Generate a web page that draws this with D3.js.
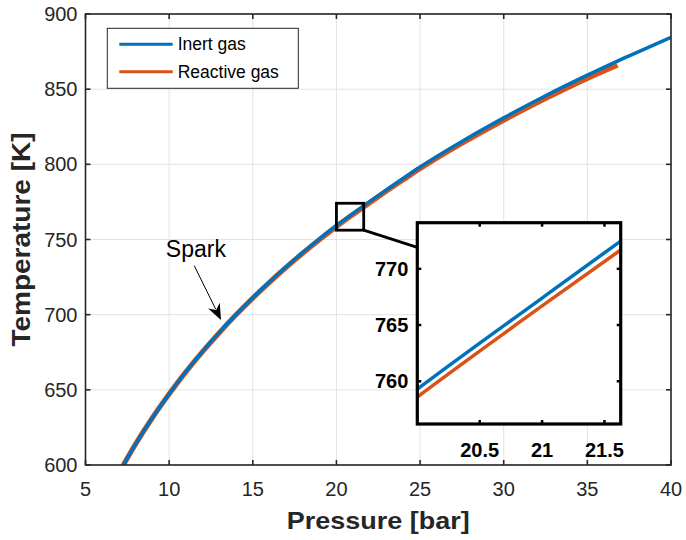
<!DOCTYPE html>
<html>
<head>
<meta charset="utf-8">
<script src="https://cdn.jsdelivr.net/npm/d3@7"></script>
<style>
  html, body { margin: 0; padding: 0; background: #ffffff; }
  svg { display: block; font-family: "Liberation Sans", Arial, Helvetica, sans-serif; }
</style>
</head>
<body>
<svg id="chart" width="686" height="540"></svg>
<script>
// ---------------- data ----------------
const pressureInert = [7.22, 8, 9, 10, 11, 12, 13, 14, 15, 16, 17, 18, 19, 20, 21, 22, 23, 24, 25, 27.5, 30, 32.5, 35, 36.8, 37.5, 40];
const tempInert     = [599.1, 614.0, 631.4, 647.3, 662.0, 675.6, 688.2, 700.1, 711.3, 721.9, 731.9, 741.5, 750.6, 759.3, 767.4, 775.4, 783.1, 790.7, 798.2, 815.2, 830.9, 845.6, 859.3, 868.7, 872.2, 884.5];
const pressureReactive = [7.22, 8, 9, 10, 11, 12, 13, 14, 15, 16, 17, 18, 19, 20, 21, 22, 23, 24, 25, 27.5, 30, 32.5, 35, 36.8];
const tempReactive     = [599.1, 614.0, 631.4, 647.2, 661.9, 675.4, 688.0, 699.9, 711.0, 721.5, 731.5, 741.0, 750.0, 758.6, 766.7, 774.6, 782.3, 789.8, 797.2, 814.0, 829.4, 843.8, 857.2, 866.0];
const seriesNames = ["Inert gas", "Reactive gas"];
const xTicks = [5, 10, 15, 20, 25, 30, 35, 40];
const yTicks = [600, 650, 700, 750, 800, 850, 900];
const xDomain = [5, 40];
const yDomain = [600, 900];
const insetXDomain = [20.0, 21.63];
const insetYDomain = [756.2, 774.1];
const insetXTicks = [20.5, 21, 21.5];
const insetYTicks = [760, 765, 770];
const annotationText = "Spark";
const arrowStart = [11.5, 732.6];
const arrowTip = [13.1, 696.5];
const xLabel = "Pressure [bar]";
const yLabel = "Temperature [K]";

// ---------------- layout ----------------
const colors = ["#0072BD", "#D95319"];
const axisColor = "#262626";
const gridColor = "#e3e3e3";
const plot = { left: 85.5, right: 671, top: 14, bottom: 465 };
const inset = { left: 417.3, right: 620.7, top: 222.7, bottom: 424 };

const svg = d3.select("#chart");
const x = d3.scaleLinear().domain(xDomain).range([plot.left, plot.right]);
const y = d3.scaleLinear().domain(yDomain).range([plot.bottom, plot.top]);

const inertData = pressureInert.map((p, i) => ({ p, t: tempInert[i] }));
const reactiveData = pressureReactive.map((p, i) => ({ p, t: tempReactive[i] }));

// clip
const defs = svg.append("defs");
defs.append("clipPath").attr("id", "clipMain").append("rect")
  .attr("x", plot.left).attr("y", plot.top)
  .attr("width", plot.right - plot.left).attr("height", plot.bottom - plot.top);
defs.append("clipPath").attr("id", "clipInset").append("rect")
  .attr("x", inset.left).attr("y", inset.top)
  .attr("width", inset.right - inset.left).attr("height", inset.bottom - inset.top);

// grid
const grid = svg.append("g");
grid.selectAll("line.gx").data(xTicks).join("line")
  .attr("x1", d => x(d)).attr("x2", d => x(d))
  .attr("y1", plot.top).attr("y2", plot.bottom)
  .attr("stroke", gridColor).attr("stroke-width", 1);
grid.selectAll("line.gy").data(yTicks).join("line")
  .attr("y1", d => y(d)).attr("y2", d => y(d))
  .attr("x1", plot.left).attr("x2", plot.right)
  .attr("stroke", gridColor).attr("stroke-width", 1);

// curves
const lineGen = (sx, sy) => d3.line().x(d => sx(d.p)).y(d => sy(d.t)).curve(d3.curveMonotoneX);
const mainG = svg.append("g").attr("clip-path", "url(#clipMain)");
mainG.append("path").datum(reactiveData).attr("d", lineGen(x, y))
  .attr("fill", "none").attr("stroke", colors[1]).attr("stroke-width", 5.2).attr("stroke-linejoin", "round");
mainG.append("path").datum(inertData).attr("d", lineGen(x, y))
  .attr("fill", "none").attr("stroke", colors[0]).attr("stroke-width", 3.5).attr("stroke-linejoin", "round");

// axes (box with inward ticks)
const tickLen = 5;
const axG = svg.append("g").attr("fill", "none").attr("stroke", axisColor);
axG.append("rect").attr("x", plot.left).attr("y", plot.top)
  .attr("width", plot.right - plot.left).attr("height", plot.bottom - plot.top)
  .attr("stroke-width", 1.6);
xTicks.forEach(v => {
  axG.append("line").attr("x1", x(v)).attr("x2", x(v)).attr("y1", plot.bottom).attr("y2", plot.bottom - tickLen).attr("stroke-width", 1.6);
  axG.append("line").attr("x1", x(v)).attr("x2", x(v)).attr("y1", plot.top).attr("y2", plot.top + tickLen).attr("stroke-width", 1.6);
});
yTicks.forEach(v => {
  axG.append("line").attr("y1", y(v)).attr("y2", y(v)).attr("x1", plot.left).attr("x2", plot.left + tickLen).attr("stroke-width", 1.6);
  axG.append("line").attr("y1", y(v)).attr("y2", y(v)).attr("x1", plot.right).attr("x2", plot.right - tickLen).attr("stroke-width", 1.6);
});

// tick labels
svg.append("g").selectAll("text").data(xTicks).join("text")
  .attr("x", d => x(d)).attr("y", plot.bottom + 31)
  .attr("text-anchor", "middle").attr("font-size", 20).attr("fill", axisColor)
  .text(d => d);
svg.append("g").selectAll("text").data(yTicks).join("text")
  .attr("x", plot.left - 8).attr("y", d => y(d) + 7)
  .attr("text-anchor", "end").attr("font-size", 20).attr("fill", axisColor)
  .text(d => d);

// axis labels
svg.append("text").attr("x", (plot.left + plot.right) / 2).attr("y", 529)
  .attr("text-anchor", "middle").attr("font-size", 24).attr("font-weight", "bold")
  .attr("fill", axisColor).attr("textLength", 183).attr("lengthAdjust", "spacingAndGlyphs")
  .text(xLabel);
svg.append("text")
  .attr("transform", `translate(30, ${(plot.top + plot.bottom) / 2}) rotate(-90)`)
  .attr("text-anchor", "middle").attr("font-size", 25).attr("font-weight", "bold")
  .attr("fill", axisColor).attr("textLength", 214).attr("lengthAdjust", "spacingAndGlyphs")
  .text(yLabel);

// legend
const leg = svg.append("g");
leg.append("rect").attr("x", 107.3).attr("y", 28.3).attr("width", 191).attr("height", 60)
  .attr("fill", "#ffffff").attr("stroke", axisColor).attr("stroke-width", 1);
seriesNames.forEach((name, i) => {
  const ly = 44.3 + i * 27.4;
  leg.append("line").attr("x1", 119.3).attr("x2", 172.7).attr("y1", ly).attr("y2", ly)
    .attr("stroke", colors[i]).attr("stroke-width", 3);
  leg.append("text").attr("x", 177.7).attr("y", ly + 6).attr("font-size", 17.5)
    .attr("fill", "#000").text(name);
});

// annotation "Spark"
svg.append("text").attr("x", x(11.6)).attr("y", y(738.2)).attr("text-anchor", "middle")
  .attr("font-size", 23).attr("fill", "#000").text(annotationText);
{
  const x0 = x(arrowStart[0]), y0 = y(arrowStart[1]);
  const x1 = x(arrowTip[0]), y1 = y(arrowTip[1]);
  const dx = x1 - x0, dy = y1 - y0, L = Math.hypot(dx, dy);
  const ux = dx / L, uy = dy / L, px = -uy, py = ux;
  const hl = 16, hw = 6.5;
  const bx = x1 - ux * hl, by = y1 - uy * hl;
  svg.append("line").attr("x1", x0).attr("y1", y0).attr("x2", bx + ux * 4).attr("y2", by + uy * 4)
    .attr("stroke", "#000").attr("stroke-width", 1);
  svg.append("path")
    .attr("d", `M${x1},${y1} L${bx + px * hw},${by + py * hw} L${bx + ux * 5},${by + uy * 5} L${bx - px * hw},${by - py * hw} Z`)
    .attr("fill", "#000");
}

// zoom rectangle on main plot
svg.append("rect")
  .attr("x", x(insetXDomain[0])).attr("y", y(insetYDomain[1]))
  .attr("width", x(insetXDomain[1]) - x(insetXDomain[0]))
  .attr("height", y(insetYDomain[0]) - y(insetYDomain[1]))
  .attr("fill", "none").attr("stroke", "#000").attr("stroke-width", 2.8);
// connector
svg.append("line")
  .attr("x1", x(insetXDomain[1])).attr("y1", y(insetYDomain[0]))
  .attr("x2", inset.left).attr("y2", inset.top + 24.6)
  .attr("stroke", "#000").attr("stroke-width", 2.8);

// inset
const ix = d3.scaleLinear().domain(insetXDomain).range([inset.left, inset.right]);
const iy = d3.scaleLinear().domain(insetYDomain).range([inset.bottom, inset.top]);
svg.append("rect").attr("x", inset.left).attr("y", inset.top)
  .attr("width", inset.right - inset.left).attr("height", inset.bottom - inset.top)
  .attr("fill", "#ffffff");
const insG = svg.append("g").attr("clip-path", "url(#clipInset)");
insG.append("path").datum(reactiveData).attr("d", lineGen(ix, iy))
  .attr("fill", "none").attr("stroke", colors[1]).attr("stroke-width", 3.5);
insG.append("path").datum(inertData).attr("d", lineGen(ix, iy))
  .attr("fill", "none").attr("stroke", colors[0]).attr("stroke-width", 3.5);
const insAx = svg.append("g").attr("stroke", "#000").attr("fill", "none");
insAx.append("rect").attr("x", inset.left).attr("y", inset.top)
  .attr("width", inset.right - inset.left).attr("height", inset.bottom - inset.top)
  .attr("stroke-width", 3.2);
insetXTicks.forEach(v => {
  insAx.append("line").attr("x1", ix(v)).attr("x2", ix(v)).attr("y1", inset.bottom).attr("y2", inset.bottom - 4).attr("stroke-width", 2.5);
  insAx.append("line").attr("x1", ix(v)).attr("x2", ix(v)).attr("y1", inset.top).attr("y2", inset.top + 4).attr("stroke-width", 2.5);
});
insetYTicks.forEach(v => {
  insAx.append("line").attr("y1", iy(v)).attr("y2", iy(v)).attr("x1", inset.left).attr("x2", inset.left + 4).attr("stroke-width", 2.5);
  insAx.append("line").attr("y1", iy(v)).attr("y2", iy(v)).attr("x1", inset.right).attr("x2", inset.right - 4).attr("stroke-width", 2.5);
});
svg.append("g").selectAll("text").data(insetXTicks).join("text")
  .attr("x", d => ix(d)).attr("y", inset.bottom + 33)
  .attr("text-anchor", "middle").attr("font-size", 20).attr("font-weight", "bold").attr("fill", "#000")
  .text(d => d);
svg.append("g").selectAll("text").data(insetYTicks).join("text")
  .attr("x", inset.left - 9).attr("y", d => iy(d) + 7)
  .attr("text-anchor", "end").attr("font-size", 20).attr("font-weight", "bold").attr("fill", "#000")
  .text(d => d);
</script>
</body>
</html>
